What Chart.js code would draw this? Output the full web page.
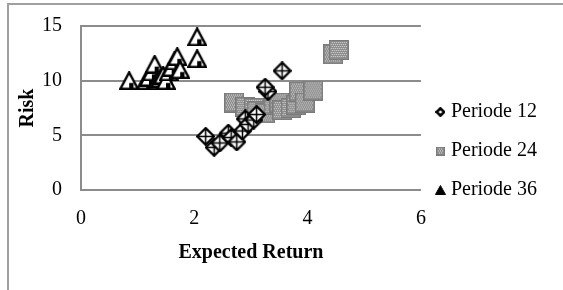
<!DOCTYPE html>
<html>
<head>
<meta charset="utf-8">
<script src="https://cdn.jsdelivr.net/npm/chart.js@4"></script>
<style>
  html, body { margin: 0; padding: 0; background: #fff; overflow: hidden; }
  #frame { position: absolute; left: 7px; top: 3px; width: 620px; height: 340px; border: 2px solid #a0a0a0; box-sizing: border-box; }
  #wrap { position: absolute; left: 0; top: 0; width: 563px; height: 290px; }
</style>
</head>
<body>
<div id="frame"></div>
<div id="wrap"><canvas id="c" width="563" height="290"></canvas></div>
<script>
// data (x = expected return, y = risk)
const seriesNames = ['Periode 12', 'Periode 24', 'Periode 36'];

const p12 = [
  { x: 2.2, y: 4.9 }, { x: 2.35, y: 3.9 }, { x: 2.45, y: 4.3 }, { x: 2.6, y: 5.2 },
  { x: 2.65, y: 4.8 }, { x: 2.75, y: 4.4 }, { x: 2.85, y: 5.4 }, { x: 2.9, y: 6.5 },
  { x: 2.95, y: 6.0 }, { x: 3.05, y: 6.4 }, { x: 3.1, y: 6.9 }, { x: 3.3, y: 9.0 },
  { x: 3.25, y: 9.4 }, { x: 3.55, y: 10.9 }
];
const p24 = [
  { x: 2.7, y: 8.0 }, { x: 2.9, y: 7.6 }, { x: 3.05, y: 7.5 }, { x: 3.1, y: 7.2 },
  { x: 3.25, y: 7.0 }, { x: 3.4, y: 7.8 }, { x: 3.5, y: 8.0 }, { x: 3.55, y: 7.3 },
  { x: 3.7, y: 7.5 }, { x: 3.8, y: 7.8 }, { x: 3.85, y: 9.0 }, { x: 3.95, y: 8.0 },
  { x: 4.1, y: 9.1 }, { x: 4.45, y: 12.4 }, { x: 4.55, y: 12.8 }
];
const p36 = [
  { x: 0.85, y: 10.0 }, { x: 1.15, y: 10.0 }, { x: 1.2, y: 10.3 }, { x: 1.25, y: 10.8 },
  { x: 1.3, y: 11.5 }, { x: 1.35, y: 10.0 }, { x: 1.4, y: 10.2 }, { x: 1.45, y: 10.5 },
  { x: 1.5, y: 10.0 }, { x: 1.55, y: 10.8 }, { x: 1.6, y: 11.2 }, { x: 1.65, y: 11.8 },
  { x: 1.7, y: 12.2 }, { x: 1.75, y: 11.0 }, { x: 2.05, y: 12.0 }, { x: 2.05, y: 14.0 }
];

const xTicks = [0, 2, 4, 6];
const yTicks = [0, 5, 10, 15];

const FONT = "'Times New Roman', 'Liberation Serif', serif";

// marker images
function mk(w, h, draw) {
  const c = document.createElement('canvas');
  c.width = w; c.height = h;
  draw(c.getContext('2d'), w, h);
  return c;
}
function diamond(s, lw, cross) {
  return mk(s, s, (g, w) => {
    const m = w / 2, r = m - lw / 2;
    g.beginPath();
    g.moveTo(m, m - r); g.lineTo(m + r, m); g.lineTo(m, m + r); g.lineTo(m - r, m); g.closePath();
    g.fillStyle = '#fff'; g.fill();
    g.lineWidth = lw; g.strokeStyle = '#000'; g.stroke();
    if (cross) {
      g.lineWidth = 1.5;
      g.beginPath(); g.moveTo(m, m - r); g.lineTo(m, m + r); g.moveTo(m - r, m); g.lineTo(m + r, m); g.stroke();
    }
  });
}
function square(s) {
  return mk(s, s, (g, w) => {
    g.fillStyle = '#8c8c8c'; g.fillRect(0, 0, w, w);
    g.fillStyle = '#dcdcdc';
    for (let y = 2; y < w - 2; y += 2)
      for (let x = 2 + ((y / 2) % 2); x < w - 2; x += 2) g.fillRect(x, y, 1, 1);
    g.strokeStyle = '#7a7a7a'; g.lineWidth = 1; g.strokeRect(0.5, 0.5, w - 1, w - 1);
  });
}
function triangle(w, h, lw, solid) {
  return mk(w, h, (g) => {
    g.beginPath();
    g.moveTo(w / 2, lw / 2); g.lineTo(w - lw / 2, h - lw / 2); g.lineTo(lw / 2, h - lw / 2); g.closePath();
    g.fillStyle = solid ? '#000' : '#fff'; g.fill();
    if (!solid) {
      g.fillStyle = '#000';
      g.fillRect(w / 2, h * 0.62, w * 0.22, h * 0.3);
    }
    g.lineWidth = lw; g.strokeStyle = '#000'; g.lineJoin = 'miter'; g.stroke();
  });
}

const markers = [diamond(19, 2.2, true), square(20), triangle(20, 19, 2.4, false)];
const legendMarks = [diamond(10, 2.6, false), square(9), triangle(11, 10, 1, true)];

const datasets = [p12, p24, p36].map((d, i) => ({
  label: seriesNames[i],
  data: d,
  pointStyle: markers[i],
  pointRadius: 10,
  pointHoverRadius: 10,
  showLine: false,
  order: i
}));

new Chart(document.getElementById('c'), {
  type: 'scatter',
  data: { datasets },
  options: {
    responsive: false,
    animation: false,
    layout: { padding: { left: 0, top: 26, right: 16, bottom: 14 } },
    scales: {
      x: {
        min: 0, max: 6,
        afterBuildTicks: s => { s.ticks = xTicks.map(v => ({ value: v })); },
        afterFit: s => { s.height = 86; },
        grid: { display: false, drawTicks: false },
        border: { display: true, color: '#8c8c8c', width: 2 },
        ticks: { padding: 17, color: '#000', font: { family: FONT, size: 20 } },
        title: { display: true, text: 'Expected Return', color: '#000',
                 font: { family: FONT, size: 20, weight: 'bold' }, padding: { top: 0, bottom: 11 } }
      },
      y: {
        min: 0, max: 15,
        afterBuildTicks: s => { s.ticks = yTicks.map(v => ({ value: v })); },
        afterFit: s => { s.width = 81; },
        grid: { color: '#8c8c8c', lineWidth: 2, drawTicks: true, tickLength: 19, tickColor: 'rgba(0,0,0,0)' },
        border: { display: true, color: '#8c8c8c', width: 2 },
        ticks: { padding: 0, color: '#000', font: { family: FONT, size: 20 } },
        title: { display: true, text: 'Risk', color: '#000',
                 font: { family: FONT, size: 20, weight: 'bold' }, padding: { top: 16, bottom: 0 } }
      }
    },
    plugins: {
      tooltip: { enabled: false },
      legend: {
        position: 'right',
        labels: {
          usePointStyle: true,
          boxWidth: 1,
          padding: 19,
          color: '#000',
          font: { family: FONT, size: 20 },
          generateLabels: chart => chart.data.datasets.map((ds, i) => ({
            text: ds.label, datasetIndex: i, hidden: false,
            pointStyle: legendMarks[i], fillStyle: '#000', strokeStyle: '#000', lineWidth: 0
          }))
        }
      }
    }
  }
});
</script>
</body>
</html>
